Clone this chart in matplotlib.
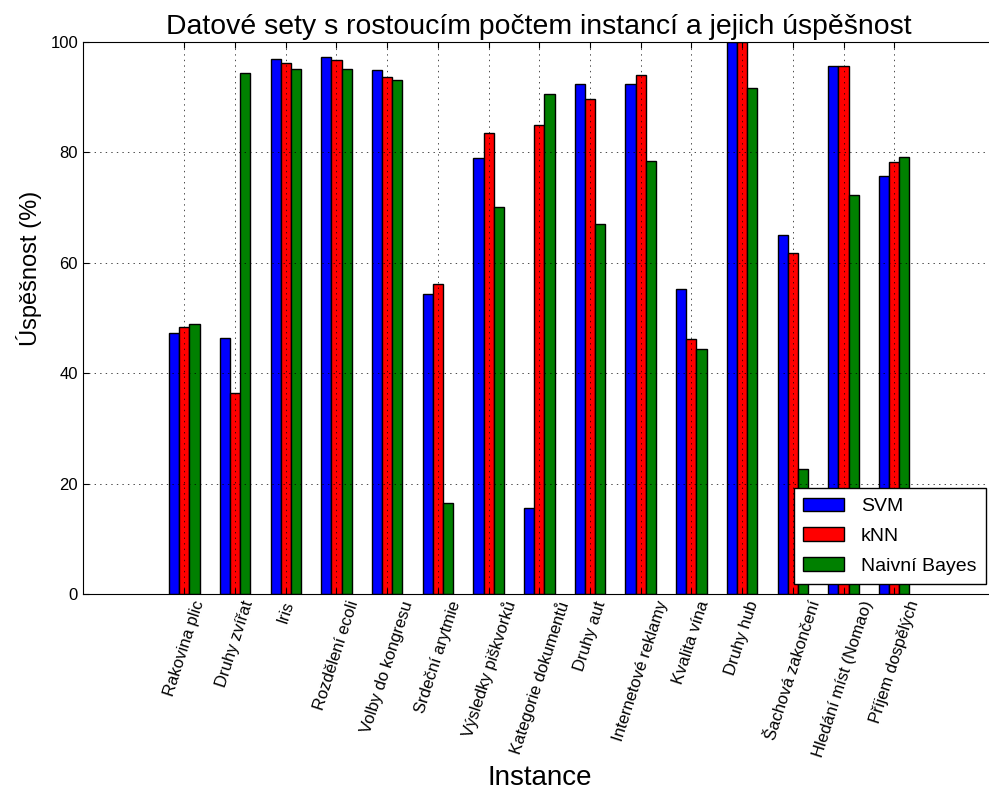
import matplotlib
matplotlib.use('Agg')
import matplotlib.pyplot as plt
import numpy as np

# data sets (sorted by growing number of instances) and accuracy in %
instances = ['Rakovina plic', 'Druhy zvířat', 'Iris', 'Rozdělení ecoli',
             'Volby do kongresu', 'Srdeční arytmie', 'Výsledky piškvorků',
             'Kategorie dokumentů', 'Druhy aut', 'Internetové reklamy',
             'Kvalita vína', 'Druhy hub', 'Šachová zakončení',
             'Hledání míst (Nomao)', 'Příjem dospělých']
svm = [47.2, 46.3, 96.9, 97.2, 94.9, 54.4, 78.9, 15.5, 92.4, 92.4, 55.3, 100.0, 65.1, 95.7, 75.7]
knn = [48.3, 36.4, 96.1, 96.8, 93.7, 56.1, 83.5, 84.9, 89.6, 94.0, 46.2, 100.0, 61.8, 95.7, 78.3]
bayes = [48.9, 94.3, 95.1, 95.1, 93.1, 16.4, 70.1, 90.5, 67.0, 78.5, 44.4, 91.6, 22.6, 72.2, 79.2]

plt.rcParams['font.family'] = ['Liberation Sans', 'DejaVu Sans']
plt.rcParams['lines.scale_dashes'] = False

fig = plt.figure(figsize=(9.89, 7.91), dpi=100)
ax = fig.add_axes([0.0839, 0.249, 0.9228, 0.698])

x = np.arange(len(instances))
w = 0.2
ax.bar(x - w, svm, w, color='b', edgecolor='k', linewidth=1, label='SVM')
ax.bar(x, knn, w, color='r', edgecolor='k', linewidth=1, label='kNN')
ax.bar(x + w, bayes, w, color='#008000', edgecolor='k', linewidth=1, label='Naivní Bayes')

ax.set_xlim(-2, 16)
ax.set_ylim(0, 100)
ax.set_xticks(x)
ax.set_xticklabels(instances, rotation=72, fontsize=12)
ax.set_yticks([0, 20, 40, 60, 80, 100])
ax.tick_params(direction='in', top=True, right=True, length=4, labelsize=12)
ax.grid(True, linestyle=(0, (1, 3)), color='k', linewidth=0.5)
ax.set_axisbelow(False)

ax.set_title('Datové sety s rostoucím počtem instancí a jejich úspěšnost', fontsize=20.4)
ax.set_ylabel('Úspěšnost (%)', fontsize=17)
ax.yaxis.set_label_coords(-0.045, 0.59)
ax.set_xlabel('Instance', fontsize=20)

leg = ax.legend(loc='lower right', fontsize=14, fancybox=False, framealpha=1,
                edgecolor='k', borderpad=0.5, labelspacing=0.62,
                handlelength=2.1, handletextpad=0.85)
leg.get_frame().set_linewidth(1)

fig.savefig('out.png', dpi=100)
